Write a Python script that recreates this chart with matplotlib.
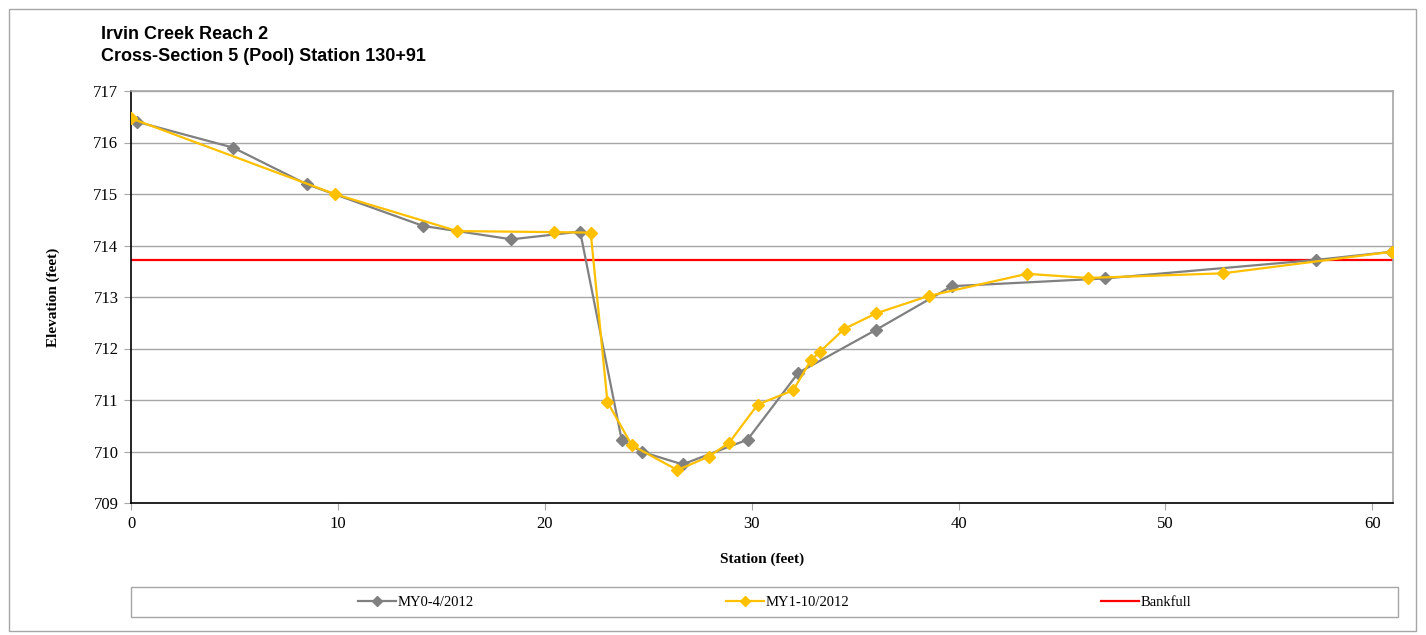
import matplotlib
matplotlib.use('Agg')
import matplotlib.pyplot as plt
from matplotlib.patches import Rectangle

# survey data
my0_station = [0.31, 4.94, 8.49, 14.12, 18.39, 21.71, 23.72, 24.72, 26.66,
               29.80, 32.26, 36.00, 39.68, 47.06, 57.29, 60.97]
my0_elev = [716.40, 715.90, 715.19, 714.38, 714.12, 714.27, 710.22, 709.99, 709.75,
            710.23, 711.53, 712.36, 713.21, 713.36, 713.72, 713.88]

my1_station = [0.0, 9.84, 15.77, 20.43, 22.22, 23.03, 24.21, 26.41, 27.92, 28.91,
               30.29, 32.01, 32.86, 33.31, 34.47, 36.00, 38.55, 43.31, 46.24,
               52.79, 60.97]
my1_elev = [716.47, 715.00, 714.28, 714.26, 714.25, 710.96, 710.12, 709.64, 709.90, 710.17,
            710.91, 711.19, 711.77, 711.94, 712.38, 712.68, 713.02, 713.45, 713.37,
            713.46, 713.88]

bankfull_station = [0, 61]
bankfull_elev = [713.72, 713.72]

x_ticks = [0, 10, 20, 30, 40, 50, 60]
y_ticks = [709, 710, 711, 712, 713, 714, 715, 716, 717]

serif = 'Liberation Serif'
W, H = 1426, 635

fig = plt.figure(figsize=(W / 100, H / 100), dpi=100)
ax = fig.add_axes([131 / W, 1 - 503 / H, (1393 - 131) / W, (503 - 91) / H])

# outer chart border
fig.patches.append(Rectangle((9 / W, 1 - 631 / H), (1416 - 9) / W, (631 - 9) / H,
                             transform=fig.transFigure, fill=False,
                             edgecolor='#A6A6A6', linewidth=1))

ax.plot(my0_station, my0_elev, color='#808080', marker='D', markersize=6,
        linewidth=1.6, label='MY0-4/2012', zorder=3)
ax.plot(my1_station, my1_elev, color='#FFC000', marker='D', markersize=6.5,
        linewidth=1.6, label='MY1-10/2012', zorder=4)
ax.plot(bankfull_station, bankfull_elev, color='#FF0000', linewidth=1.6,
        label='Bankfull', zorder=2)

ax.set_xlim(0, 61)
ax.set_ylim(709, 717)
ax.set_xticks(x_ticks)
ax.set_yticks(y_ticks)
ax.grid(axis='y', color='#A6A6A6', linewidth=1)
ax.set_axisbelow(True)

for s in ['top', 'right']:
    ax.spines[s].set_color('#A6A6A6')
    ax.spines[s].set_linewidth(1.2)
for s in ['left', 'bottom']:
    ax.spines[s].set_color('black')
    ax.spines[s].set_linewidth(1.2)

ax.tick_params(direction='out', length=5, color='#A6A6A6', labelsize=12, pad=4)
for lab in ax.get_xticklabels() + ax.get_yticklabels():
    lab.set_family(serif)

ax.set_xlabel('Station (feet)', family=serif, fontsize=11, fontweight='bold', labelpad=15)
ax.set_ylabel('Elevation (feet)', family=serif, fontsize=11, fontweight='bold', labelpad=24)

fig.text(101 / W, 1 - 26 / H, 'Irvin Creek Reach 2\nCross-Section 5 (Pool) Station 130+91',
         family='Liberation Sans', fontsize=13, fontweight='bold', va='top', ha='left',
         linespacing=1.4)

# legend box below the plot
fig.patches.append(Rectangle((131 / W, 1 - 617 / H), (1398 - 131) / W, (617 - 587) / H,
                             transform=fig.transFigure, fill=False,
                             edgecolor='#A6A6A6', linewidth=1))
fig.legend(loc='center', bbox_to_anchor=(775 / W, 1 - 602 / H), ncol=3, frameon=False,
           prop={'family': serif, 'size': 10.5}, columnspacing=17.3, handlelength=2.6,
           handletextpad=0.1, markerscale=0.8)

fig.savefig('out.png', dpi=100)
